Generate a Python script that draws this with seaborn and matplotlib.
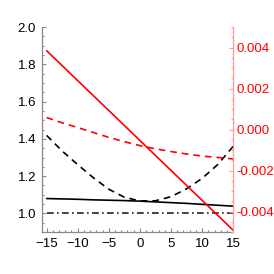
import numpy as np
import pandas as pd
import seaborn as sns
import matplotlib
matplotlib.use('Agg')
import matplotlib.pyplot as plt
from matplotlib.ticker import MultipleLocator, FormatStrFormatter

x_vals = [-15, -12.5, -10, -7.5, -5, -2.5, 0, 2.5, 5, 7.5, 10, 12.5, 15]
black_solid = [1.080, 1.078, 1.076, 1.073, 1.071, 1.069, 1.066,
               1.062, 1.058, 1.054, 1.049, 1.044, 1.039]
black_dashed = [1.419, 1.335, 1.262, 1.192, 1.130, 1.087, 1.067,
                1.068, 1.090, 1.132, 1.188, 1.262, 1.360]
black_dashdot = [1.0] * 13
red_solid = [0.00385, 0.00312, 0.00239, 0.00166, 0.00093, 0.00020, -0.00053,
             -0.00126, -0.00199, -0.00272, -0.00345, -0.00418, -0.00491]
red_dashed = [0.00059, 0.00033, 0.00010, -0.00014, -0.00038, -0.00059, -0.00078,
              -0.00094, -0.00107, -0.00119, -0.00129, -0.00136, -0.00143]

x_ticks = [-15, -10, -5, 0, 5, 10, 15]
left_ticks = [1.0, 1.2, 1.4, 1.6, 1.8, 2.0]
right_ticks = [-0.004, -0.002, 0.0, 0.002, 0.004]

sns.set_theme(style='white')
plt.rcParams['font.family'] = ['Liberation Sans', 'DejaVu Sans']
plt.rcParams['font.size'] = 9.5

df = pd.DataFrame({'x': x_vals, 'bs': black_solid, 'bd': black_dashed,
                   'bdd': black_dashdot, 'rs': red_solid, 'rd': red_dashed})

fig = plt.figure(figsize=(2.74, 2.74), dpi=100)
ax = fig.add_axes([0.152, 0.153, 0.699, 0.748])
ax2 = ax.twinx()

sns.lineplot(data=df, x='x', y='bs', ax=ax, color='black', lw=1.2)
sns.lineplot(data=df, x='x', y='bd', ax=ax, color='black', lw=1.2, linestyle=(0, (4, 3)))
sns.lineplot(data=df, x='x', y='bdd', ax=ax, color='#222222', lw=1.2, linestyle=(0, (4, 2, 1, 2)))
sns.lineplot(data=df, x='x', y='rs', ax=ax2, color='red', lw=1.2)
sns.lineplot(data=df, x='x', y='rd', ax=ax2, color='red', lw=1.2, linestyle=(0, (4, 3)))

ax.set_xlim(-15.8, 15)
ax.set_ylim(0.9, 2.0)
ax2.set_ylim(-0.005, 0.005)

ax.set_xticks(x_ticks)
ax.set_yticks(left_ticks)
ax.yaxis.set_major_formatter(FormatStrFormatter('%.1f'))
ax.xaxis.set_minor_locator(MultipleLocator(1))
ax.yaxis.set_minor_locator(MultipleLocator(0.05))
ax2.set_yticks(right_ticks)
ax2.yaxis.set_major_formatter(FormatStrFormatter('%.3f'))
ax2.yaxis.set_minor_locator(MultipleLocator(0.0005))

for a in (ax, ax2):
    a.set_xlabel('')
    a.set_ylabel('')
    a.spines['top'].set_visible(False)

ax.spines['right'].set_visible(False)
ax.spines['left'].set_color('#888888')
ax.spines['bottom'].set_color('#888888')
ax2.spines['left'].set_visible(False)
ax2.spines['bottom'].set_visible(False)
ax2.spines['right'].set_color('#ff9999')
for s in ax.spines.values():
    s.set_linewidth(0.9)
ax2.spines['right'].set_linewidth(0.9)

ax.tick_params(which='both', direction='in', color='#888888', width=0.8,
               labelsize=9.5, labelcolor='black', bottom=True, left=True,
               top=False, right=False)
ax.tick_params(which='major', length=3.2, pad=4)
ax.tick_params(which='minor', length=1.7)
ax.tick_params(axis='x', pad=4)
ax2.tick_params(which='both', direction='in', color='#ff9999', width=0.8,
                labelsize=9.5, labelcolor='red', right=True, left=False)
ax2.tick_params(which='major', length=3.2, pad=2.5)
ax2.tick_params(which='minor', length=1.7)

fig.savefig('out.png', dpi=100)
